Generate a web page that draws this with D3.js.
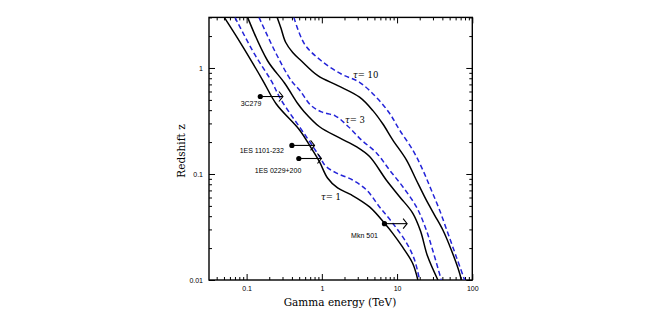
<!DOCTYPE html>
<html>
<head>
<meta charset="utf-8">
<script src="https://cdn.jsdelivr.net/npm/d3@7"></script>
<style>
  body { margin: 0; background: #fff; }
  .tick text { font-family: "Liberation Sans", Arial, sans-serif; font-size: 7px; fill: #000; }
</style>
</head>
<body>
<div id="chart"></div>
<script>
// gamma-ray horizon curves, each point is [energy (TeV), redshift]
const tau1Solid = [[0.0505, 3.0], [0.0848, 1.68], [0.163, 0.77], [0.248, 0.457], [0.505, 0.26],
  [0.707, 0.18], [0.932, 0.13], [1.19, 0.0917], [1.62, 0.0738], [2.48, 0.0634], [4.31, 0.0489],
  [6.82, 0.0343], [8.71, 0.0277], [11.8, 0.0205], [16.1, 0.0144], [18.9, 0.01]];
const tau1Dashed = [[0.0701, 3.0], [0.127, 1.355], [0.212, 0.759], [0.288, 0.499], [0.621, 0.225],
  [0.932, 0.146], [1.12, 0.119], [1.57, 0.102], [2.56, 0.0878], [3.93, 0.0706], [5.85, 0.0489],
  [8.71, 0.0345], [13.4, 0.0223], [17.1, 0.0154], [19.9, 0.01]];
const tau3Solid = [[0.103, 3.0], [0.19, 1.17], [0.319, 0.722], [0.483, 0.457], [0.571, 0.393],
  [0.932, 0.279], [1.72, 0.219], [2.87, 0.181], [4.31, 0.146], [7.18, 0.0878], [10.8, 0.0611],
  [16.2, 0.0426], [20.5, 0.029], [25.4, 0.0168], [34.9, 0.01]];
const tau3Dashed = [[0.146, 3.0], [0.248, 1.355], [0.392, 0.759], [0.505, 0.62], [0.708, 0.448],
  [0.99, 0.385], [1.52, 0.352], [2.2, 0.284], [3.37, 0.209], [5.33, 0.158], [7.94, 0.109],
  [11.9, 0.0759], [18.0, 0.0492], [23.9, 0.031], [29.7, 0.0192], [38.7, 0.01]];
const tau10Solid = [[0.255, 3.0], [0.285, 2.4], [0.33, 1.75], [0.41, 1.4], [0.532, 1.17],
  [0.885, 0.846], [1.63, 0.681], [3.17, 0.53], [4.77, 0.396], [6.48, 0.296], [8.79, 0.209],
  [13.3, 0.136], [18.0, 0.0878], [24.4, 0.0569], [31.5, 0.041], [40.6, 0.0296], [52.6, 0.0192],
  [67.8, 0.0116], [71.4, 0.01]];
const tau10Dashed = [[0.425, 3.0], [0.589, 1.68], [0.982, 1.17], [1.81, 0.878], [3.17, 0.733],
  [5.29, 0.53], [7.94, 0.374], [10.8, 0.26], [16.2, 0.168], [22.0, 0.109], [28.5, 0.0706],
  [36.7, 0.0457], [47.4, 0.0276], [61.2, 0.0166], [79.0, 0.01]];

// observed sources: lower limit on max energy
const sourceNames = ["3C279", "1ES 1101-232", "1ES 0229+200", "Mkn 501"];
const sourceEnergy = [0.152, 0.40, 0.494, 6.8];
const sourceZ = [0.538, 0.186, 0.14, 0.034];

const tauLabels = ["\u03c4", "\u03c4", "\u03c4"];
const tauValues = [1, 3, 10];

const xMajor = [0.1, 1, 10, 100];
const yMajor = [0.01, 0.1, 1];

const width = 664, height = 315;
const plotLeft = 209, plotRight = 472.3, plotTop = 17.4, plotBottom = 280;

const svg = d3.select("#chart").append("svg")
  .attr("width", width)
  .attr("height", height);

const x = d3.scaleLog().domain([Math.pow(10, -1.5), 100]).range([plotLeft, plotRight]);
const y = d3.scaleLog().domain([0.01, 3]).range([plotBottom, plotTop]);

svg.append("clipPath").attr("id", "plotclip")
  .append("rect")
  .attr("x", plotLeft).attr("y", plotTop)
  .attr("width", plotRight - plotLeft).attr("height", plotBottom - plotTop);

// axes: minor and major ticks on all four sides, pointing inward
const xMinor = x.ticks().filter(v => !xMajor.some(m => Math.abs(m - v) < 1e-9));
const yMinor = y.ticks().filter(v => !yMajor.some(m => Math.abs(m - v) < 1e-9));

function drawAxis(axis, tx, ty) {
  const g = svg.append("g").attr("transform", `translate(${tx},${ty})`).call(axis);
  g.select(".domain").remove();
  g.selectAll(".tick line").attr("stroke", "#000").attr("stroke-width", 1);
  return g;
}

drawAxis(d3.axisBottom(x).tickValues(xMinor).tickSize(-3).tickFormat(""), 0, plotBottom);
drawAxis(d3.axisBottom(x).tickValues(xMajor).tickSize(-6).tickPadding(6).tickFormat(d3.format("")), 0, plotBottom);
drawAxis(d3.axisTop(x).tickValues(xMinor).tickSize(-3).tickFormat(""), 0, plotTop);
drawAxis(d3.axisTop(x).tickValues(xMajor).tickSize(-6).tickFormat(""), 0, plotTop);

drawAxis(d3.axisLeft(y).tickValues(yMinor).tickSize(-3).tickFormat(""), plotLeft, 0);
drawAxis(d3.axisLeft(y).tickValues(yMajor).tickSize(-6).tickPadding(6).tickFormat(d3.format("")), plotLeft, 0);
drawAxis(d3.axisRight(y).tickValues(yMinor).tickSize(-3).tickFormat(""), plotRight, 0);
drawAxis(d3.axisRight(y).tickValues(yMajor).tickSize(-6).tickFormat(""), plotRight, 0);

svg.append("rect")
  .attr("x", plotLeft).attr("y", plotTop)
  .attr("width", plotRight - plotLeft).attr("height", plotBottom - plotTop)
  .attr("fill", "none")
  .attr("stroke", "#000")
  .attr("stroke-width", 1.4);

// curves
const line = d3.line()
  .x(d => x(d[0]))
  .y(d => y(d[1]))
  .curve(d3.curveCatmullRom.alpha(0.5));

const curves = svg.append("g").attr("clip-path", "url(#plotclip)");

[tau1Solid, tau3Solid, tau10Solid].forEach(c => {
  curves.append("path")
    .attr("d", line(c))
    .attr("fill", "none")
    .attr("stroke", "#000")
    .attr("stroke-width", 1.5);
});

[tau1Dashed, tau3Dashed, tau10Dashed].forEach(c => {
  curves.append("path")
    .attr("d", line(c))
    .attr("fill", "none")
    .attr("stroke", "#2424d8")
    .attr("stroke-width", 1.5)
    .attr("stroke-dasharray", "5,3");
});

// tau labels (placed by hand beside each pair)
const tauPos = [[321, 197], [345, 120], [353, 75.5]];
tauValues.forEach((v, i) => {
  const t = svg.append("text")
    .attr("x", tauPos[i][0])
    .attr("y", tauPos[i][1])
    .attr("dy", "0.35em")
    .style("font-family", "'DejaVu Serif', serif")
    .style("font-size", "8.5px");
  t.append("tspan").style("font-style", "italic").text(tauLabels[i]);
  t.append("tspan").text("= " + v);
});

// sources with arrows to twice the energy
const labelShift = [[1, 7], [-8, 5.5], [2.5, 11.7], [-6.5, 11.7]];
sourceNames.forEach((name, i) => {
  const px = x(sourceEnergy[i]), py = y(sourceZ[i]);
  const px2 = x(sourceEnergy[i] * 2);
  svg.append("line")
    .attr("x1", px).attr("y1", py)
    .attr("x2", px2).attr("y2", py)
    .attr("stroke", "#000").attr("stroke-width", 1.1);
  svg.append("path")
    .attr("d", `M${px2 - 4},${py - 5}L${px2},${py}L${px2 - 4},${py + 5}`)
    .attr("fill", "none").attr("stroke", "#000").attr("stroke-width", 1.1);
  svg.append("circle")
    .attr("cx", px).attr("cy", py).attr("r", 2.6)
    .attr("fill", "#000");
  svg.append("text")
    .attr("x", px + labelShift[i][0])
    .attr("y", py + labelShift[i][1])
    .attr("dy", "0.35em")
    .attr("text-anchor", "end")
    .style("font-family", "'Liberation Sans', Arial, sans-serif")
    .style("font-size", "7px")
    .text(name);
});

// axis titles
svg.append("text")
  .attr("x", 340)
  .attr("y", 302)
  .attr("dy", "0.35em")
  .attr("text-anchor", "middle")
  .style("font-family", "'DejaVu Serif', serif")
  .style("font-size", "10.5px")
  .text("Gamma energy (TeV)");

svg.append("text")
  .attr("transform", "translate(181,151) rotate(-90)")
  .attr("dy", "0.35em")
  .attr("text-anchor", "middle")
  .style("font-family", "'DejaVu Serif', serif")
  .style("font-size", "10.5px")
  .text("Redshift z");
</script>
</body>
</html>
